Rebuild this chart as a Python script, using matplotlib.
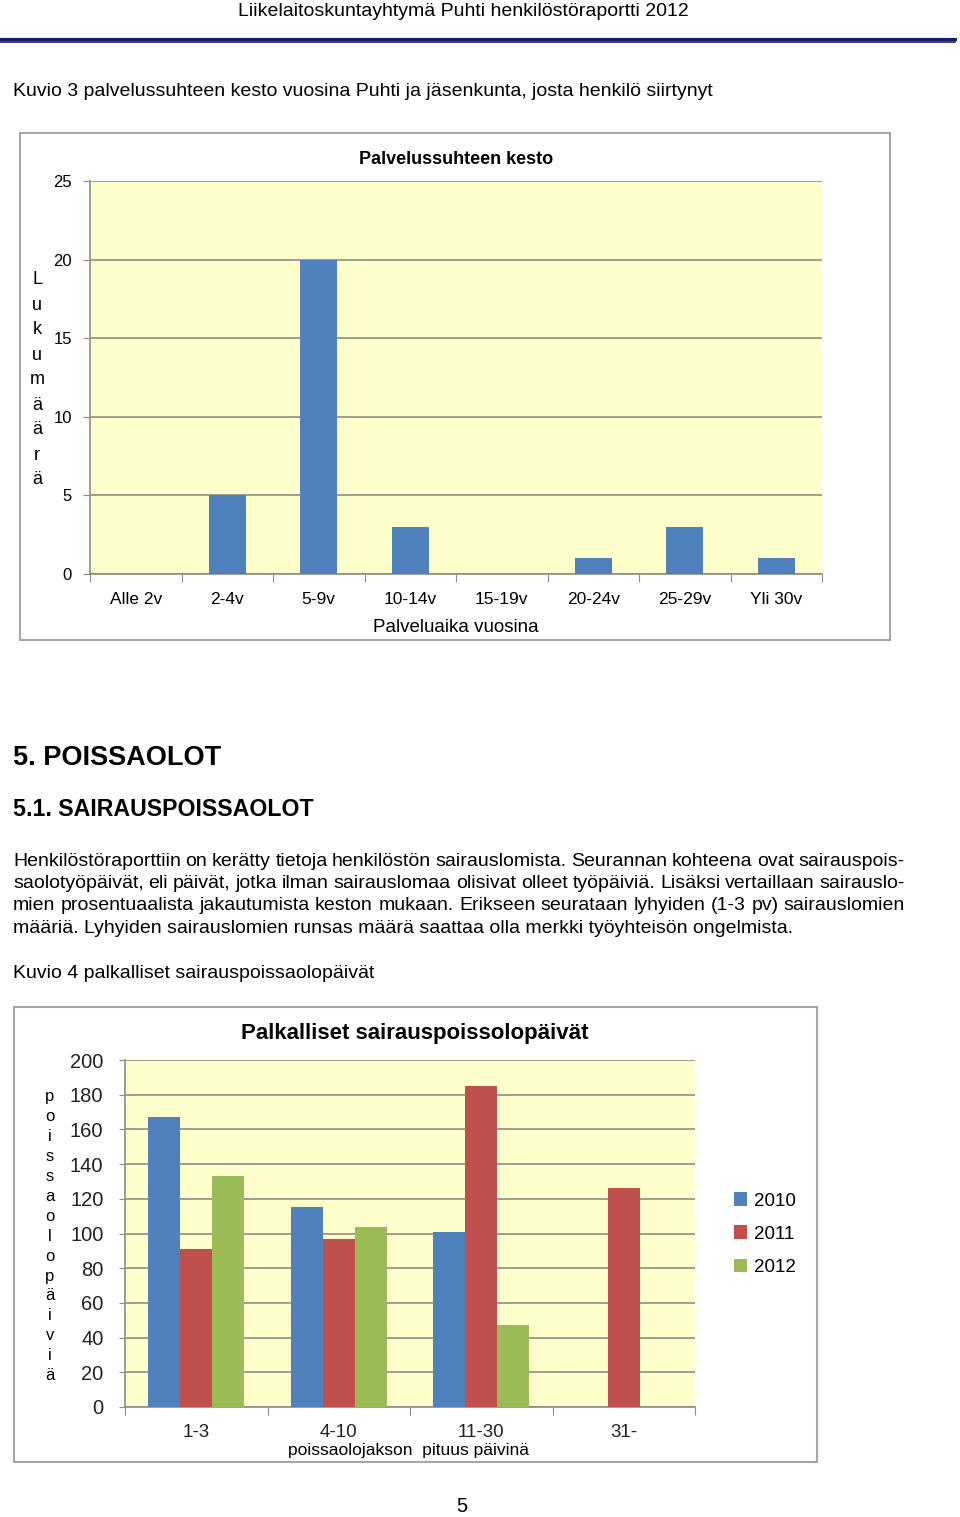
import numpy as np
import matplotlib
matplotlib.use("Agg")
from matplotlib import pyplot as plt
from matplotlib.patches import Rectangle
from matplotlib.lines import Line2D

plt.rcParams['font.family'] = ['Liberation Sans', 'DejaVu Sans']

W, H = 960, 1517

# chart 1 data
kesto_labels = ['Alle 2v', '2-4v', '5-9v', '10-14v', '15-19v', '20-24v', '25-29v', 'Yli 30v']
kesto_values = [0, 5, 20, 3, 0, 1, 3, 1]

# chart 2 data
jakso_labels = ['1-3', '4-10', '11-30', '31-']
years = ['2010', '2011', '2012']
days_2010 = [167, 115, 101, 0]
days_2011 = [91, 97, 185, 126]
days_2012 = [133, 104, 47, 0]

paragraph = [
    "Henkilöstöraporttiin on kerätty tietoja henkilöstön sairauslomista.  Seurannan kohteena ovat sairauspois-",
    "saolotyöpäivät, eli päivät, jotka ilman sairauslomaa olisivat olleet työpäiviä. Lisäksi vertaillaan sairauslo-",
    "mien prosentuaalista jakautumista keston mukaan.  Erikseen seurataan lyhyiden (1-3 pv) sairauslomien",
    "määriä. Lyhyiden sairauslomien runsas määrä saattaa olla merkki työyhteisön ongelmista.",
]

fig = plt.figure(figsize=(W / 100, H / 100), dpi=100)


def fx(x):
    return x / W


def fy(y):
    return 1 - y / H


def box(x0, y0, x1, y1):
    return [fx(x0), fy(y1), fx(x1) - fx(x0), fy(y0) - fy(y1)]


def ptext(x, y, s, **kw):
    return fig.text(fx(x), fy(y), s, **kw)


# page header
ptext(463, 11, "Liikelaitoskuntayhtymä Puhti henkilöstöraportti 2012", ha='center', va='center', fontsize=14)
fig.add_artist(Line2D([0, fx(955)], [fy(38.5)] * 2, color='#1a1a6e', lw=2.2))
fig.add_artist(Line2D([0, fx(955)], [fy(42)] * 2, color='#1a1a6e', lw=1.2))

ptext(13, 92, "Kuvio 3 palvelussuhteen kesto vuosina Puhti ja jäsenkunta, josta henkilö siirtynyt",
      ha='left', va='center', fontsize=14)

# ---- chart 1 ----
fig.add_artist(Rectangle((fx(20), fy(640)), fx(890) - fx(20), fy(133) - fy(640),
                         transform=fig.transFigure, fill=False, edgecolor='#a6a6a6', lw=1.5))
ax1 = fig.add_axes(box(90, 181, 822, 574))
ax1.set_facecolor('#ffffcc')
x1 = np.arange(len(kesto_labels))
ax1.bar(x1, kesto_values, width=0.4, color='#4f81bd', zorder=3)
ax1.set_xlim(-0.5, len(kesto_labels) - 0.5)
ax1.set_ylim(0, 25)
ax1.set_yticks(np.arange(0, 26, 5))
ax1.yaxis.grid(True, color='#8c8c8c', lw=1.2, zorder=1)
ax1.set_xticks(np.arange(-0.5, len(kesto_labels), 1))
ax1.set_xticklabels([])
ax1.set_xticks(x1, minor=True)
ax1.set_xticklabels(kesto_labels, minor=True, fontsize=12.5)
ax1.tick_params(axis='x', which='minor', length=0, pad=13)
ax1.tick_params(axis='x', which='major', length=6, color='#8c8c8c', direction='out')
ax1.tick_params(axis='y', length=5, color='#8c8c8c', labelsize=12, pad=8)
for s in ['top', 'right']:
    ax1.spines[s].set_visible(False)
for s in ['left', 'bottom']:
    ax1.spines[s].set_color('#8c8c8c')
    ax1.spines[s].set_linewidth(1.2)
ptext(456, 160, "Palvelussuhteen kesto", ha='center', va='center', fontsize=13, fontweight='bold')
ptext(456, 627, "Palveluaika vuosina", ha='center', va='center', fontsize=13.5)
for i, ch in enumerate("Lukumäärä"):
    ptext(37, 280 + i * 25, ch, ha='center', va='center', fontsize=13)

# ---- section text ----
ptext(13, 758, "5. POISSAOLOT", ha='left', va='center', fontsize=19.5, fontweight='bold')
ptext(13, 810, "5.1. SAIRAUSPOISSAOLOT", ha='left', va='center', fontsize=16.7, fontweight='bold')

renderer = fig.canvas.get_renderer()
right_edge = 905
for li, line in enumerate(paragraph):
    y = 861 + li * 22.4
    words = line.split()
    if li == len(paragraph) - 1:
        ptext(13, y, " ".join(words), ha='left', va='center', fontsize=14)
        continue
    arts = [ptext(13, y, w, ha='left', va='center', fontsize=14) for w in words]
    widths = [a.get_window_extent(renderer).width for a in arts]
    gap = (right_edge - 13 - sum(widths)) / (len(words) - 1)
    xpos = 13
    for a, wd in zip(arts, widths):
        a.set_position((fx(xpos), fy(y)))
        xpos += wd + gap

ptext(13, 973, "Kuvio 4 palkalliset sairauspoissaolopäivät", ha='left', va='center', fontsize=14)

# ---- chart 2 ----
fig.add_artist(Rectangle((fx(14), fy(1462)), fx(817) - fx(14), fy(1007) - fy(1462),
                         transform=fig.transFigure, fill=False, edgecolor='#a6a6a6', lw=1.5))
ax2 = fig.add_axes(box(125, 1060, 695, 1407))
ax2.set_facecolor('#ffffcc')
x2 = np.arange(len(jakso_labels))
bw = 0.225
colors = ['#4f81bd', '#c0504d', '#9bbb59']
for k, (vals, yr) in enumerate(zip([days_2010, days_2011, days_2012], years)):
    ax2.bar(x2 + (k - 1) * bw, vals, width=bw, color=colors[k], label=yr, zorder=3)
ax2.set_xlim(-0.5, len(jakso_labels) - 0.5)
ax2.set_ylim(0, 200)
ax2.set_yticks(np.arange(0, 201, 20))
ax2.yaxis.grid(True, color='#8c8c8c', lw=1.2, zorder=1)
ax2.set_xticks(np.arange(-0.5, len(jakso_labels), 1))
ax2.set_xticklabels([])
ax2.set_xticks(x2, minor=True)
ax2.set_xticklabels(jakso_labels, minor=True, fontsize=13.5, color='#222222')
ax2.tick_params(axis='x', which='minor', length=0, pad=12)
ax2.tick_params(axis='x', which='major', length=6, color='#8c8c8c', direction='out')
ax2.tick_params(axis='y', length=4.5, color='#8c8c8c', labelsize=14.5, labelcolor='#222222', pad=11)
for s in ['top', 'right']:
    ax2.spines[s].set_visible(False)
for s in ['left', 'bottom']:
    ax2.spines[s].set_color('#8c8c8c')
    ax2.spines[s].set_linewidth(1.2)
ptext(415, 1033, "Palkalliset sairauspoissolopäivät", ha='center', va='center', fontsize=16, fontweight='bold')
ptext(408, 1450, "poissaolojakson  pituus päivinä", ha='center', va='center', fontsize=12.5)
for i, ch in enumerate("poissaolopäiviä"):
    ptext(50, 1097 + i * 19.9, ch, ha='center', va='center', fontsize=12)
fig.legend(loc='center left', bbox_to_anchor=(fx(717), fy(1234)), frameon=False, fontsize=13.5,
           handlelength=0.7, handleheight=0.7, handletextpad=0.35, labelspacing=0.85)

ptext(462, 1507, "5", ha='center', va='center', fontsize=14.5)

fig.savefig('out.png', dpi=100)
